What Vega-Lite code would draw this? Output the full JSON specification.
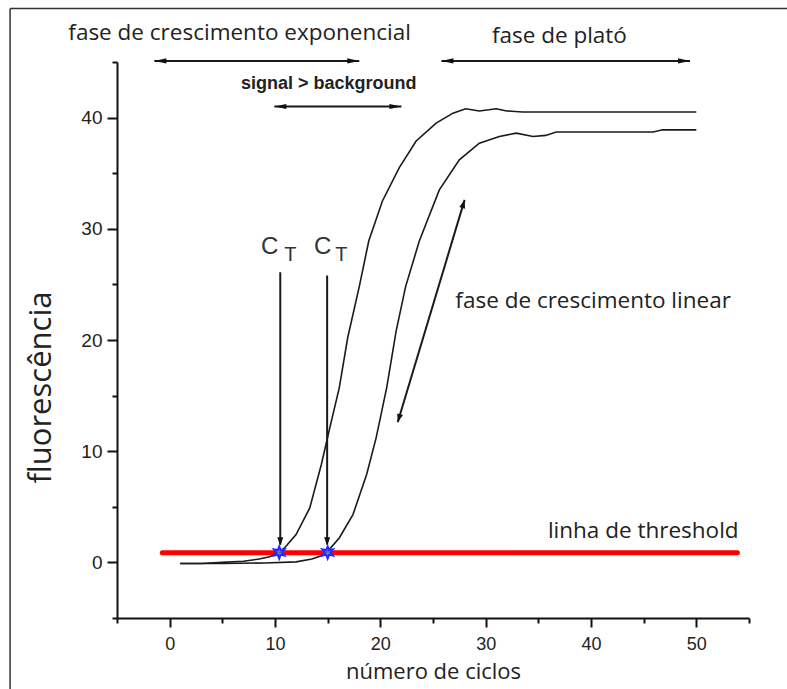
{
  "$schema": "https://vega.github.io/schema/vega-lite/v6.json",
  "width": 632,
  "height": 556,
  "autosize": {"type": "none"},
  "padding": {"left": 117, "top": 62, "right": 38, "bottom": 71},
  "background": "white",
  "config": {
    "view": {"stroke": null},
    "axis": {
      "grid": false,
      "domainColor": "#111111",
      "domainWidth": 2,
      "tickColor": "#111111",
      "tickWidth": 2,
      "labelFont": "Liberation Sans",
      "labelColor": "#222222",
      "titleFont": "Open Sans",
      "titleFontWeight": "normal",
      "titleColor": "#222222",
      "labelFlush": false,
      "labelOverlap": false
    }
  },
  "datasets": {
    "curves": [
      {"series": "A", "cycle": 1, "fluor": -0.1},
      {"series": "A", "cycle": 3, "fluor": -0.1},
      {"series": "A", "cycle": 5, "fluor": 0},
      {"series": "A", "cycle": 7, "fluor": 0.1},
      {"series": "A", "cycle": 8.5, "fluor": 0.3},
      {"series": "A", "cycle": 9.5, "fluor": 0.5},
      {"series": "A", "cycle": 10.4, "fluor": 0.9},
      {"series": "A", "cycle": 10.9, "fluor": 1.3},
      {"series": "A", "cycle": 12.0, "fluor": 2.5},
      {"series": "A", "cycle": 13.3, "fluor": 4.9},
      {"series": "A", "cycle": 14.4, "fluor": 8.8},
      {"series": "A", "cycle": 15.2, "fluor": 12.1},
      {"series": "A", "cycle": 16.1, "fluor": 15.7},
      {"series": "A", "cycle": 16.9, "fluor": 20.2},
      {"series": "A", "cycle": 18.0, "fluor": 24.8},
      {"series": "A", "cycle": 18.9, "fluor": 28.9},
      {"series": "A", "cycle": 20.2, "fluor": 32.5},
      {"series": "A", "cycle": 21.8, "fluor": 35.5},
      {"series": "A", "cycle": 23.4, "fluor": 37.9},
      {"series": "A", "cycle": 25.3, "fluor": 39.5},
      {"series": "A", "cycle": 26.9, "fluor": 40.4},
      {"series": "A", "cycle": 28.1, "fluor": 40.8},
      {"series": "A", "cycle": 29.4, "fluor": 40.6},
      {"series": "A", "cycle": 30.3, "fluor": 40.7},
      {"series": "A", "cycle": 31.0, "fluor": 40.8},
      {"series": "A", "cycle": 32.0, "fluor": 40.6},
      {"series": "A", "cycle": 33.5, "fluor": 40.5},
      {"series": "A", "cycle": 50.0, "fluor": 40.5},
      {"series": "B", "cycle": 1, "fluor": -0.1},
      {"series": "B", "cycle": 5, "fluor": -0.1},
      {"series": "B", "cycle": 9, "fluor": -0.05},
      {"series": "B", "cycle": 12, "fluor": 0.05},
      {"series": "B", "cycle": 13.5, "fluor": 0.3},
      {"series": "B", "cycle": 14.4, "fluor": 0.6},
      {"series": "B", "cycle": 15.0, "fluor": 1.0},
      {"series": "B", "cycle": 16.1, "fluor": 2.2},
      {"series": "B", "cycle": 17.4, "fluor": 4.3},
      {"series": "B", "cycle": 18.7, "fluor": 7.9},
      {"series": "B", "cycle": 19.6, "fluor": 11.2},
      {"series": "B", "cycle": 20.6, "fluor": 15.7},
      {"series": "B", "cycle": 21.5, "fluor": 20.8},
      {"series": "B", "cycle": 22.4, "fluor": 24.8},
      {"series": "B", "cycle": 23.7, "fluor": 28.9},
      {"series": "B", "cycle": 25.6, "fluor": 33.5},
      {"series": "B", "cycle": 27.5, "fluor": 36.2},
      {"series": "B", "cycle": 29.4, "fluor": 37.7},
      {"series": "B", "cycle": 31.3, "fluor": 38.3},
      {"series": "B", "cycle": 32.9, "fluor": 38.6},
      {"series": "B", "cycle": 34.5, "fluor": 38.3},
      {"series": "B", "cycle": 35.7, "fluor": 38.4},
      {"series": "B", "cycle": 36.7, "fluor": 38.7},
      {"series": "B", "cycle": 45.9, "fluor": 38.7},
      {"series": "B", "cycle": 46.8, "fluor": 38.9},
      {"series": "B", "cycle": 50.0, "fluor": 38.9}
    ],
    "threshold": [
      {"cycle": -0.7, "fluor": 0.86},
      {"cycle": 53.9, "fluor": 0.86}
    ],
    "frame": [
      {"x": -15.15, "y": -14, "x2": -15.15, "y2": 49.8},
      {"x": -15.15, "y": 49.8, "x2": 62, "y2": 49.8}
    ],
    "segments": [
      {"kind": "h", "x": -1.45, "y": 45.1, "x2": 18.0, "y2": 45.1},
      {"kind": "h", "x": 9.94, "y": 41.0, "x2": 22.0, "y2": 41.0},
      {"kind": "h", "x": 25.8, "y": 45.1, "x2": 49.4, "y2": 45.1},
      {"kind": "ct", "x": 10.5, "y": 26.1, "x2": 10.5, "y2": 1.6},
      {"kind": "ct", "x": 14.95, "y": 25.8, "x2": 14.95, "y2": 1.6},
      {"kind": "diag", "x": 21.65, "y": 12.6, "x2": 28.0, "y2": 32.6}
    ],
    "heads": [
      {"cycle": -1.45, "fluor": 45.1, "dir": "left"},
      {"cycle": 18.0, "fluor": 45.1, "dir": "right"},
      {"cycle": 9.94, "fluor": 41.0, "dir": "left"},
      {"cycle": 22.0, "fluor": 41.0, "dir": "right"},
      {"cycle": 25.8, "fluor": 45.1, "dir": "left"},
      {"cycle": 49.4, "fluor": 45.1, "dir": "right"},
      {"cycle": 10.5, "fluor": 1.5, "dir": "down"},
      {"cycle": 14.95, "fluor": 1.5, "dir": "down"}
    ],
    "diagHeads": [
      {"cycle": 28.0, "fluor": 32.6, "dir": "up"},
      {"cycle": 21.65, "fluor": 12.6, "dir": "down"}
    ],
    "ct": [
      {"cycle": 10.4, "fluor": 0.9},
      {"cycle": 15.0, "fluor": 0.9}
    ],
    "labels": [
      {"label": "fase de crescimento exponencial", "cycle": 6.64, "fluor": 47.0},
      {"label": "fase de plató", "cycle": 37.0, "fluor": 46.7},
      {"label": "fase de crescimento linear", "cycle": 40.2, "fluor": 22.9},
      {"label": "linha de threshold", "cycle": 44.96, "fluor": 2.2}
    ],
    "signal": [
      {"label": "signal > background", "cycle": 15.1, "fluor": 42.6}
    ],
    "cLabels": [
      {"label": "C", "cycle": 9.49, "fluor": 27.75},
      {"label": "C", "cycle": 14.53, "fluor": 27.75}
    ],
    "tLabels": [
      {"label": "T", "cycle": 11.45, "fluor": 27.1},
      {"label": "T", "cycle": 16.3, "fluor": 27.1}
    ]
  },
  "layer": [
    {
      "data": {"name": "frame"},
      "mark": {"type": "rule", "color": "#333333", "strokeWidth": 1.5, "clip": false},
      "encoding": {
        "x": {"field": "x", "type": "quantitative"},
        "x2": {"field": "x2"},
        "y": {"field": "y", "type": "quantitative"},
        "y2": {"field": "y2"}
      }
    },
    {
      "data": {"name": "threshold"},
      "mark": {"type": "line", "color": "#ff0000", "strokeWidth": 5, "strokeCap": "round", "clip": false},
      "encoding": {
        "x": {
          "field": "cycle", "type": "quantitative",
          "scale": {"domain": [-5, 55], "nice": false, "zero": false},
          "axis": {
            "title": "número de ciclos",
            "values": [-5, 0, 5, 10, 15, 20, 25, 30, 35, 40, 45, 50, 55],
            "labelExpr": "datum.value % 10 === 0 ? datum.label : ''",
            "tickSize": {"condition": {"test": "datum.value % 10 === 0", "value": 9}, "value": 5},
            "labelFontSize": 18,
            "labelPadding": 8,
            "titleFontSize": 22,
            "titlePadding": 8
          }
        },
        "y": {
          "field": "fluor", "type": "quantitative",
          "scale": {"domain": [-5, 45], "nice": false, "zero": false},
          "axis": {
            "title": "fluorescência",
            "values": [-5, 0, 5, 10, 15, 20, 25, 30, 35, 40, 45],
            "labelExpr": "datum.value % 10 === 0 ? datum.label : ''",
            "tickSize": {"condition": {"test": "datum.value % 10 === 0", "value": 10}, "value": 5},
            "labelFontSize": 19,
            "labelPadding": 5,
            "titleFontSize": 31,
            "titleX": -67,
            "titleY": 325,
            "titleAngle": -90,
            "titleAlign": "center",
            "titleBaseline": "alphabetic"
          }
        }
      }
    },
    {
      "data": {"name": "curves"},
      "mark": {"type": "line", "color": "#1a1a1a", "strokeWidth": 1.6, "clip": false},
      "encoding": {
        "x": {"field": "cycle", "type": "quantitative"},
        "y": {"field": "fluor", "type": "quantitative"},
        "detail": {"field": "series"}
      }
    },
    {
      "data": {"name": "segments"},
      "mark": {"type": "rule", "color": "#1a1a1a", "strokeWidth": 2, "clip": false},
      "encoding": {
        "x": {"field": "x", "type": "quantitative"},
        "x2": {"field": "x2"},
        "y": {"field": "y", "type": "quantitative"},
        "y2": {"field": "y2"},
        "strokeWidth": {
          "field": "kind", "type": "nominal",
          "scale": {"domain": ["h", "ct", "diag"], "range": [2, 1.5, 2.5]},
          "legend": null
        }
      }
    },
    {
      "data": {"name": "heads"},
      "mark": {"type": "point", "filled": true, "color": "#111111", "opacity": 1, "size": 36, "clip": false},
      "encoding": {
        "x": {"field": "cycle", "type": "quantitative"},
        "y": {"field": "fluor", "type": "quantitative"},
        "shape": {
          "field": "dir", "type": "nominal",
          "scale": {
            "domain": ["left", "right", "up", "down"],
            "range": [
              "M0,0L4,-0.85L4,0.85Z",
              "M0,0L-4,-0.85L-4,0.85Z",
              "M0,0L-1,2.8L1,2.8Z",
              "M0,0L-1,-2.8L1,-2.8Z"
            ]
          },
          "legend": null
        }
      }
    },
    {
      "data": {"name": "diagHeads"},
      "mark": {"type": "point", "filled": true, "color": "#111111", "opacity": 1, "size": 36, "angle": 16.7, "clip": false},
      "encoding": {
        "x": {"field": "cycle", "type": "quantitative"},
        "y": {"field": "fluor", "type": "quantitative"},
        "shape": {
          "field": "dir", "type": "nominal",
          "scale": {
            "domain": ["up", "down"],
            "range": ["M0,0L-1.3,4L1.3,4Z", "M0,0L-1.6,-2.5L1.6,-2.5Z"]
          },
          "legend": null
        }
      }
    },
    {
      "data": {"name": "ct"},
      "mark": {
        "type": "point",
        "shape": "M0,-1L0.225,-0.39L0.866,-0.5L0.45,0L0.866,0.5L0.225,0.39L0,1L-0.225,0.39L-0.866,0.5L-0.45,0L-0.866,-0.5L-0.225,-0.39Z",
        "size": 150,
        "filled": false,
        "stroke": "#1f2bff",
        "strokeWidth": 2,
        "fill": "#8fa0ff",
        "fillOpacity": 0.6,
        "opacity": 1,
        "clip": false
      },
      "encoding": {
        "x": {"field": "cycle", "type": "quantitative"},
        "y": {"field": "fluor", "type": "quantitative"}
      }
    },
    {
      "data": {"name": "labels"},
      "mark": {"type": "text", "font": "Open Sans", "fontSize": 22.5, "color": "#222222", "align": "center", "baseline": "alphabetic", "clip": false},
      "encoding": {
        "x": {"field": "cycle", "type": "quantitative"},
        "y": {"field": "fluor", "type": "quantitative"},
        "text": {"field": "label"}
      }
    },
    {
      "data": {"name": "signal"},
      "mark": {"type": "text", "font": "Liberation Sans", "fontSize": 18, "fontWeight": "bold", "color": "#222222", "align": "center", "baseline": "alphabetic", "clip": false},
      "encoding": {
        "x": {"field": "cycle", "type": "quantitative"},
        "y": {"field": "fluor", "type": "quantitative"},
        "text": {"field": "label"}
      }
    },
    {
      "data": {"name": "cLabels"},
      "mark": {"type": "text", "font": "Liberation Sans", "fontSize": 24, "color": "#333333", "align": "center", "baseline": "alphabetic", "clip": false},
      "encoding": {
        "x": {"field": "cycle", "type": "quantitative"},
        "y": {"field": "fluor", "type": "quantitative"},
        "text": {"field": "label"}
      }
    },
    {
      "data": {"name": "tLabels"},
      "mark": {"type": "text", "font": "Liberation Sans", "fontSize": 20, "color": "#333333", "align": "center", "baseline": "alphabetic", "clip": false},
      "encoding": {
        "x": {"field": "cycle", "type": "quantitative"},
        "y": {"field": "fluor", "type": "quantitative"},
        "text": {"field": "label"}
      }
    }
  ]
}
